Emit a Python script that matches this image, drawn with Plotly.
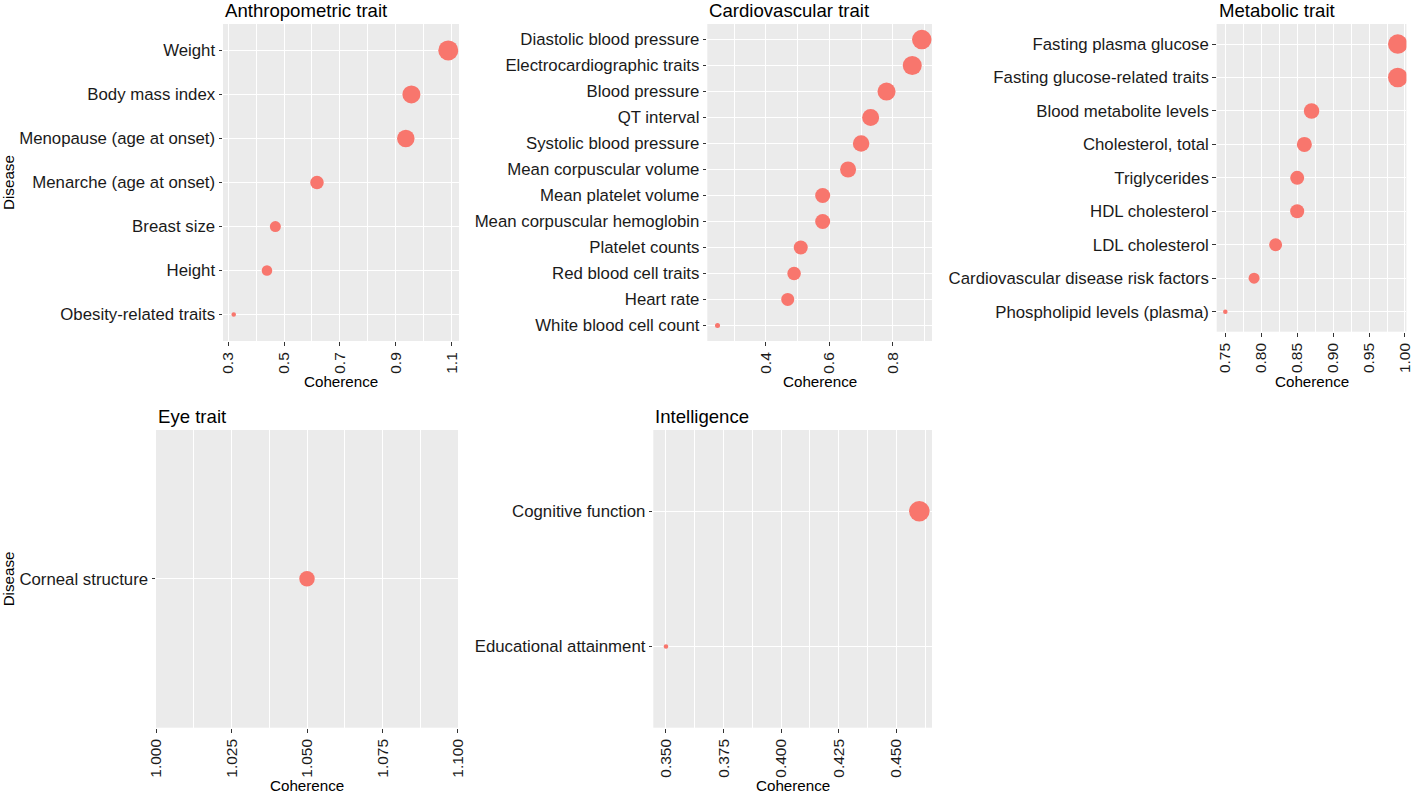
import plotly.graph_objects as go

W, H = 1416, 793

# ---------------- data ----------------
anthro_disease = ["Weight", "Body mass index", "Menopause (age at onset)",
                  "Menarche (age at onset)", "Breast size", "Height", "Obesity-related traits"]
anthro_coherence = [1.088, 0.956, 0.936, 0.618, 0.469, 0.439, 0.320]
anthro_size = [20, 18, 17.5, 13.5, 11, 10.5, 4.5]

cardio_disease = ["Diastolic blood pressure", "Electrocardiographic traits", "Blood pressure",
                  "QT interval", "Systolic blood pressure", "Mean corpuscular volume",
                  "Mean platelet volume", "Mean corpuscular hemoglobin", "Platelet counts",
                  "Red blood cell traits", "Heart rate", "White blood cell count"]
cardio_coherence = [0.891, 0.861, 0.780, 0.730, 0.700, 0.659, 0.579, 0.579, 0.510, 0.489, 0.469, 0.248]
cardio_size = [19.5, 19, 18, 17, 16.5, 16, 15, 15, 14, 13.5, 13, 5]

metab_disease = ["Fasting plasma glucose", "Fasting glucose-related traits", "Blood metabolite levels",
                 "Cholesterol, total", "Triglycerides", "HDL cholesterol", "LDL cholesterol",
                 "Cardiovascular disease risk factors", "Phospholipid levels (plasma)"]
metab_coherence = [0.99, 0.99, 0.87, 0.86, 0.85, 0.85, 0.82, 0.79, 0.75]
metab_size = [19.5, 19.5, 15.5, 15, 14, 14, 13, 11, 4.5]

eye_disease = ["Corneal structure"]
eye_coherence = [1.05]
eye_size = [15.5]

intel_disease = ["Cognitive function", "Educational attainment"]
intel_coherence = [0.46, 0.35]
intel_size = [20.5, 4.5]

panel_titles = ["Anthropometric trait", "Cardiovascular trait", "Metabolic trait",
                "Eye trait", "Intelligence"]
x_title = "Coherence"
y_title = "Disease"

# ---------------- layout helpers ----------------
def px_x(p):
    return p / W

def px_y(p):
    return 1 - p / H

DOT = "#F8766D"
PANEL_BG = "#EBEBEB"
FONT = "Liberation Sans, Arial, sans-serif"

def expand(vals, mult=0.05):
    lo, hi = min(vals), max(vals)
    d = (hi - lo) * mult
    return [lo - d, hi + d]

panels = [
    dict(dis=anthro_disease, coh=anthro_coherence, size=anthro_size,
         box=(223, 459, 24, 341), tick0=0.3, dtick=0.2, mtick0=0.3, mdtick=0.1, fmt=".1f",
         rng=expand(anthro_coherence), ytitle=True),
    dict(dis=cardio_disease, coh=cardio_coherence, size=cardio_size,
         box=(707.3, 932, 24, 341), tick0=0.4, dtick=0.2, mtick0=0.3, mdtick=0.1, fmt=".1f",
         rng=expand(cardio_coherence), ytitle=False),
    dict(dis=metab_disease, coh=metab_coherence, size=metab_size,
         box=(1216.7, 1406.4, 24, 331.7), tick0=0.75, dtick=0.05, mtick0=0.725, mdtick=0.025, fmt=".2f",
         rng=expand(metab_coherence), ytitle=False),
    dict(dis=eye_disease, coh=eye_coherence, size=eye_size,
         box=(156, 458, 430, 727.7), tick0=1.0, dtick=0.025, mtick0=0.9875, mdtick=0.0125, fmt=".3f",
         rng=[0.99999, 1.10001], ytitle=True),
    dict(dis=intel_disease, coh=intel_coherence, size=intel_size,
         box=(653.3, 932, 430, 727.7), tick0=0.35, dtick=0.025, mtick0=0.3375, mdtick=0.0125, fmt=".3f",
         rng=expand(intel_coherence), ytitle=False),
]

fig = go.Figure()
annotations = []
layout = {}

for i, p in enumerate(panels):
    n = i + 1
    xs = "x" if n == 1 else f"x{n}"
    ys = "y" if n == 1 else f"y{n}"
    xk = "xaxis" if n == 1 else f"xaxis{n}"
    yk = "yaxis" if n == 1 else f"yaxis{n}"
    x0, x1, y0, y1 = p["box"]

    fig.add_trace(go.Scatter(
        x=p["coh"], y=p["dis"], mode="markers", xaxis=xs, yaxis=ys,
        marker=dict(color=DOT, size=p["size"], line=dict(width=0), opacity=1),
        hoverinfo="x+y", showlegend=False,
    ))

    layout[xk] = dict(
        domain=[px_x(x0), px_x(x1)], anchor=ys, range=p["rng"], automargin=False,
        tick0=p["tick0"], dtick=p["dtick"], tickformat=p["fmt"], tickangle=-90,
        ticks="outside", ticklen=4, tickwidth=1, tickcolor="#333333",
        tickfont=dict(size=15.5, color="#1a1a1a", family=FONT),
        showgrid=True, gridcolor="white", gridwidth=1.3,
        minor=dict(tick0=p["mtick0"], dtick=p["mdtick"], showgrid=True,
                   gridcolor="white", gridwidth=0.6, ticks=""),
        zeroline=False, showline=False, fixedrange=True,
    )
    cats = list(reversed(p["dis"]))
    nc = len(cats)
    layout[yk] = dict(
        domain=[px_y(y1), px_y(y0)], anchor=xs, type="category", automargin=False,
        categoryorder="array", categoryarray=cats, range=[-0.6, nc - 0.4],
        ticks="outside", ticklen=3.5, tickwidth=1, tickcolor="#333333",
        tickfont=dict(size=16.8, color="#1a1a1a", family=FONT),
        showgrid=True, gridcolor="white", gridwidth=1.3,
        zeroline=False, showline=False, fixedrange=True,
    )

    # panel title
    annotations.append(dict(
        text=panel_titles[i], xref="paper", yref="paper",
        x=px_x(x0), y=px_y(y0 - 13.5), xanchor="left", yanchor="middle",
        showarrow=False, font=dict(size=18.6, color="black", family=FONT),
    ))
    # x title
    annotations.append(dict(
        text=x_title, xref="paper", yref="paper",
        x=px_x((x0 + x1) / 2), y=px_y(381.5 if y0 < 400 else 785.5),
        xanchor="center", yanchor="middle", showarrow=False,
        font=dict(size=15.2, color="black", family=FONT),
    ))
    if p["ytitle"]:
        annotations.append(dict(
            text=y_title, xref="paper", yref="paper",
            x=px_x(8.5), y=px_y((y0 + y1) / 2), xanchor="center", yanchor="middle",
            textangle=-90, showarrow=False,
            font=dict(size=15.2, color="black", family=FONT),
        ))

fig.update_layout(
    width=W, height=H, margin=dict(l=0, r=0, t=0, b=0, autoexpand=False),
    paper_bgcolor="white", plot_bgcolor=PANEL_BG,
    font=dict(family=FONT, color="black"),
    showlegend=False, annotations=annotations, **layout,
)

fig.write_html(
    "out.html",
    config={"displayModeBar": False},
    post_script="document.body.style.margin='0px';document.body.style.overflow='hidden';",
)
